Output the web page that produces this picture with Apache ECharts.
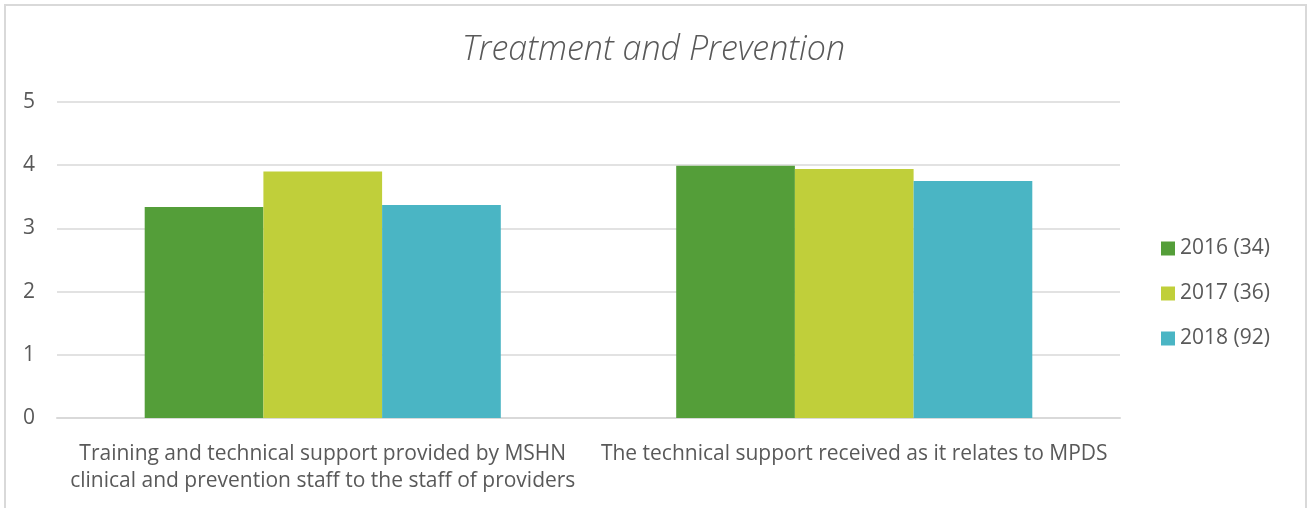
<!DOCTYPE html>
<html>
<head>
<meta charset="utf-8">
<script src="https://cdn.jsdelivr.net/npm/echarts@6/dist/echarts.min.js"></script>
<style>
    html, body { margin: 0; padding: 0; background: #fff; }
    #wrap { position: relative; width: 1307px; height: 508px; overflow: hidden; }
    #chart { width: 1307px; height: 508px; }
    /* light frame round the chart, bottom edge is cut off in the original */
    #frame { position: absolute; left: 4px; top: 4px; width: 1299px; height: 520px;
             border: 2px solid #d9d9d9; pointer-events: none; }
</style>
</head>
<body>
<div id="wrap">
    <div id="chart"></div>
    <div id="frame"></div>
</div>
<script type="text/javascript">
// Treatment and Prevention
var categories = [
    'Training and technical support provided by MSHN\nclinical and prevention staff to the staff of providers',
    'The technical support received as it relates to MPDS'
]
var seriesNames = ['2016 (34)', '2017 (36)', '2018 (92)']
var values2016 = [3.34, 3.99]
var values2017 = [3.9, 3.94]
var values2018 = [3.37, 3.75]
var colors = ['#549e39', '#c0cf3a', '#4ab5c4']

var textColor = '#595959'
var fontFamily = '"Open Sans", Lato, sans-serif'

var allValues = [values2016, values2017, values2018]
var series = []
for (var i = 0; i < seriesNames.length; i++) {
    series.push({
        name: seriesNames[i],
        type: 'bar',
        data: allValues[i],
        barGap: '0%',
        barCategoryGap: '33%',
        itemStyle: { color: colors[i] }
    })
}

var myChart = echarts.init(document.getElementById('chart'))
myChart.setOption({
    animation: false,
    color: colors,
    title: {
        text: 'Treatment and Prevention',
        left: 'center',
        top: 28,
        textStyle: {
            color: textColor,
            fontFamily: fontFamily,
            fontStyle: 'italic',
            fontWeight: 300,
            fontSize: 34
        }
    },
    legend: {
        orient: 'vertical',
        left: 1156,
        top: 233,
        itemWidth: 14,
        itemHeight: 14,
        itemGap: 24,
        icon: 'rect',
        data: seriesNames,
        textStyle: { color: textColor, fontFamily: fontFamily, fontSize: 21 }
    },
    grid: {
        left: 57,
        right: 187,
        top: 102,
        bottom: 90,
        containLabel: false
    },
    xAxis: {
        type: 'category',
        data: categories,
        axisTick: { show: false },
        axisLine: { lineStyle: { color: '#d9d9d9', width: 2 } },
        axisLabel: {
            color: textColor,
            fontFamily: fontFamily,
            fontSize: 21,
            margin: 23,
            lineHeight: 27,
            interval: 0
        }
    },
    yAxis: {
        type: 'value',
        min: 0,
        max: 5,
        interval: 1,
        axisLine: { show: false },
        axisTick: { show: false },
        splitLine: { lineStyle: { color: '#d9d9d9', width: 1.5 } },
        axisLabel: {
            color: textColor,
            fontFamily: fontFamily,
            fontSize: 21,
            margin: 22
        }
    },
    series: series
})
</script>
</body>
</html>
